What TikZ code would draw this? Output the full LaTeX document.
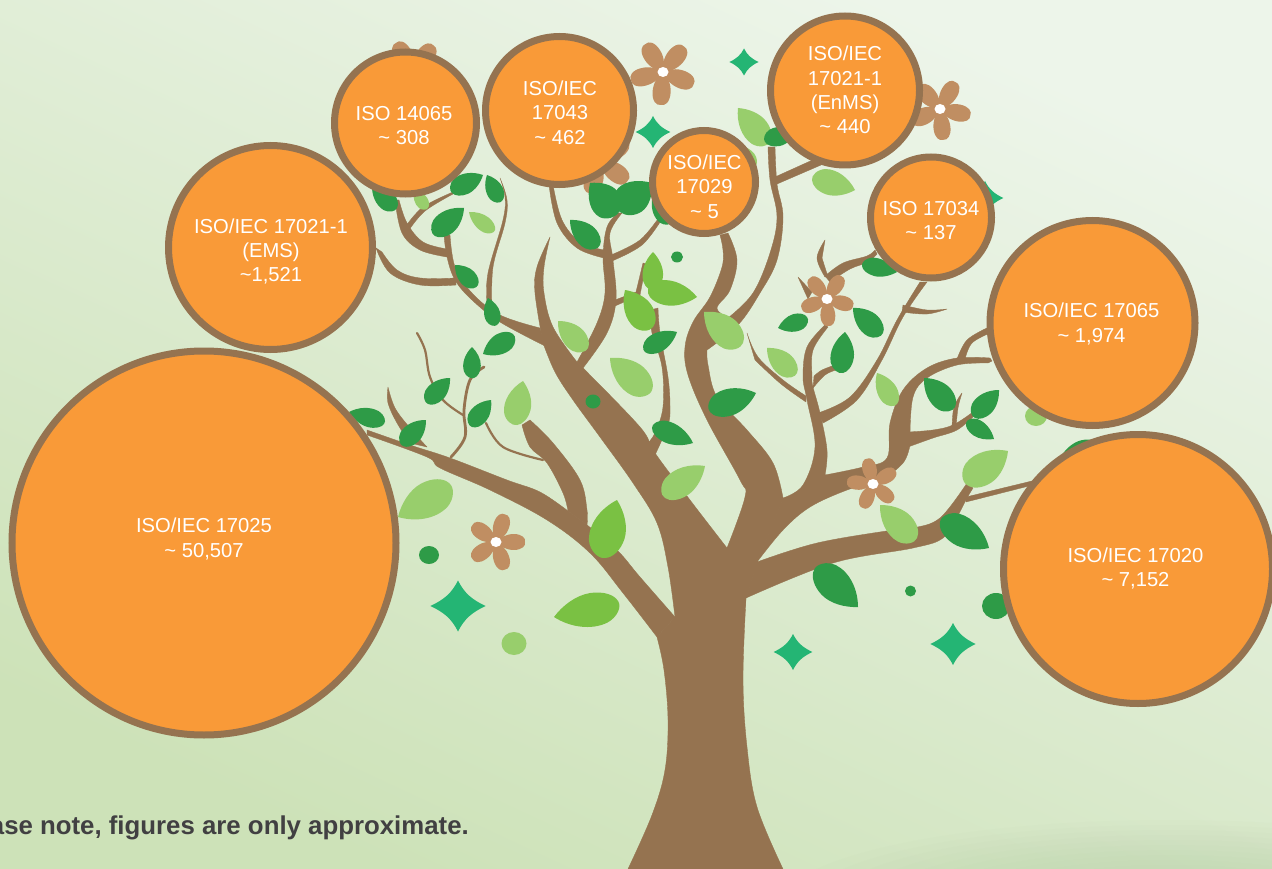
\documentclass[tikz,border=0pt]{standalone}
\usepackage{fontspec}
\setmainfont{Liberation Sans}
\definecolor{treeb}{HTML}{957350}
\definecolor{petal}{HTML}{C08E62}
\definecolor{orng}{HTML}{F99A38}
\definecolor{dkg}{HTML}{2E9B47}
\definecolor{ltg}{HTML}{98CE6C}
\definecolor{mdg}{HTML}{7AC143}
\definecolor{teal}{HTML}{24B574}
\definecolor{txt}{HTML}{414042}
\definecolor{bgt}{HTML}{EDF5EA}
\definecolor{bgb}{HTML}{CDE2B8}
\definecolor{bgd}{HTML}{B8D0A8}
\tikzset{
  bub/.style={circle,draw=treeb,line width=7pt,fill=orng,inner sep=0pt,outer sep=0pt},
  bubt/.style={inner sep=0pt,align=center,text=white,font=\fontsize{20.2}{24.3}\selectfont},
  br/.style={fill=treeb,draw=treeb,line width=.35pt,line join=round},
  twig/.style={draw=treeb,line cap=round,line join=round},
  smth/.style={smooth,tension=.6}
}
\newcommand\Qp[2]{({\tx+\dx*(#1)-\dy*(#2)*\lw},{\ty+\dy*(#1)+\dx*(#2)*\lw})}
\newcommand\leaf[6]{%
  \pgfmathsetmacro\tx{#1}\pgfmathsetmacro\ty{#2}%
  \pgfmathsetmacro\dx{#3-#1}\pgfmathsetmacro\dy{#4-#2}\pgfmathsetmacro\lw{.74*(#5)}%
  \fill[#6] \Qp{0}{0} .. controls \Qp{.2}{.32} and \Qp{.5}{.5} .. \Qp{.76}{.42}
    .. controls \Qp{.93}{.36} and \Qp{1.04}{.14} .. \Qp{1}{0}
    .. controls \Qp{.97}{-.16} and \Qp{.82}{-.3} .. \Qp{.62}{-.33}
    .. controls \Qp{.4}{-.36} and \Qp{.16}{-.2} .. \Qp{0}{0} -- cycle;}
\newcommand\flower[4]{%
  \begin{scope}[shift={(#1,#2)}]
  \foreach \a in {0,72,144,216,288}{
    \fill[petal,rotate=#3+\a,scale=#4/31] (0,0) .. controls (4,-4) and (10,-8.5) .. (19,-8.5)
      .. controls (28,-8.5) and (32,-4) .. (31,0) .. controls (32,4) and (28,8.5) .. (19,8.5) .. controls (10,8.5) and (4,4) .. (0,0) -- cycle;}
  \fill[petal] (0,0) circle (6.5);
  \fill[white] (0,0) ellipse (5.5 and 5);
  \end{scope}}
\newcommand\sparkle[3]{%
  \fill[teal,shift={(#1,#2)},scale=#3] (0,-1) .. controls (.25,-.5) and (.55,-.25) .. (1.08,0)
    .. controls (.55,.25) and (.25,.5) .. (0,1) .. controls (-.25,.5) and (-.55,.25) .. (-1.08,0)
    .. controls (-.55,-.25) and (-.25,-.5) .. (0,-1) -- cycle;}
\begin{document}
\begin{tikzpicture}[x=1pt,y=-1pt]
\useasboundingbox (0,0) rectangle (1272,869);
\clip (0,0) rectangle (1272,869);
\shade[top color=bgt,bottom color=bgb,shading angle=-25] (0,0) rectangle (1272,869);
\foreach \k in {0,...,11}{
  \fill[bgd,opacity=.06] (1170,905) ellipse ({390-\k*24} and {85-\k*5});}

% items behind branches
\sparkle{985}{198}{17}
\flower{413}{70}{50}{32}
\flower{600}{161}{36}{34}
\flower{940}{109}{60}{31}

% TREE
\fill[br] (668,640) -- (678,612) -- (727,548) -- (783,498) -- (757,562) -- (746,598) -- (740,650) -- cycle;
\fill[br] plot[smth] coordinates {(628,869)(652,815)(665,770)(668,720)(664,670)(657,637)} -- (675,617) -- (727,548) -- (757,562) -- (746,598) -- plot[smth] coordinates {(746,598)(743,680)(747,747)(757,807)(783,869)} -- cycle;
% big left branch
\fill[br] plot[smth] coordinates {(657,637)(623,593)(590,553)(547,520)(490,490)(440,468)(427,457)(367,435)} -- plot[smth] coordinates {(367,430)(410,445)(450,458)(507,480)(540,492)(568,511)} -- (587,525) -- plot[smth] coordinates {(587,525)(617,550)(640,577)(675,617)} -- cycle;
\fill[br] plot[smth] coordinates {(568,511)(563,493)(547,463)(530,447)(522,425)} -- plot[smth] coordinates {(530,420)(553,443)(580,480)(587,510)(587,525)} -- cycle;
% central branch
\fill[br] plot[smth] coordinates {(675,617)(668,567)(657,523)(633,483)(600,437)(573,400)(555,372)(543,343)} -- plot[smth] coordinates {(543,343)(535,293)(537,267)(550,237)} -- plot[smth] coordinates {(550,237)(544,267)(544,293)(553,327)(577,362)} -- (583,368) -- plot[smth] coordinates {(583,368)(640,427)(655,453)(690,500)(727,548)} -- cycle;
% upper left branch
\fill[br] plot[smth] coordinates {(545,346)(500,322)(472,300)(455,280)(447,257)(444,235)} -- plot[smth] coordinates {(450,235)(455,267)(472,293)(500,315)(540,328)} -- cycle;
\fill[br] plot[smth] coordinates {(447,257)(420,250)(402,233)(395,200)} -- plot[smth] coordinates {(399,200)(407,223)(423,242)(447,249)} -- cycle;
\fill[br] plot[smth] coordinates {(406,226)(423,207)(453,192)} -- plot[smth] coordinates {(453,194)(425,211)(409,230)} -- cycle;
\fill[br] plot[smth] coordinates {(376,248)(390,273)(420,285)(456,285)} -- plot[smth] coordinates {(456,278)(420,278)(397,270)(382,252)} -- cycle;
\fill[br] plot[smth] coordinates {(487,303)(488,273)(503,220)(505,197)(500,178)} -- plot[smth] coordinates {(500,178)(507,200)(505,223)(493,267)(492,309)} -- cycle;
% centre-fork
\fill[br] plot[smth] coordinates {(577,362)(597,323)(605,293)(603,257)(607,227)(618,213)} -- plot[smth] coordinates {(622,213)(610,233)(613,260)(616,300)(607,333)(583,368)} -- cycle;
\fill[br] plot[smth] coordinates {(604,258)(577,248)(557,223)(549,185)} -- plot[smth] coordinates {(553,185)(562,220)(580,242)(604,250)} -- cycle;
\fill[br] plot[smth] coordinates {(611,255)(640,240)(660,216)} -- plot[smth] coordinates {(662,219)(642,245)(612,261)} -- cycle;
\fill[br] (615,300) -- (636,292) -- (643,263) -- (646,264) -- (640,295) -- (615,306) -- cycle;
\fill[br] plot[smth] coordinates {(647,444)(655,433)(663,407)(662,367)(652,333)(650,310)} -- plot[smth] coordinates {(658,308)(660,333)(668,377)(670,407)(668,425)(655,455)} -- cycle;
% thick middle
\fill[br] plot[smth] coordinates {(727,548)(745,497)(740,480)(707,420)(688,375)(685,347)(693,322)(710,297)(722,267)(723,250)(720,235)} -- plot[smth] coordinates {(728,233)(737,260)(730,290)(717,308)(728,318)} -- plot[smth] coordinates {(728,318)(753,293)(770,253)(777,217)(770,180)(768,147)} -- plot[smth] coordinates {(775,147)(777,184)(783,217)(777,260)(760,293)(738,325)(707,350)} -- plot[smth] coordinates {(707,350)(708,365)(717,397)(747,430)(773,463)(783,498)} -- (757,562) -- cycle;
\fill[br] (775,177) -- (817,158) -- (821,165) -- (777,184) -- cycle;
% right side
\fill[br] plot[smth] coordinates {(783,498)(803,485)(815,447)(807,400)(803,377)(807,347)(825,325)} -- plot[smth] coordinates {(828,327)(813,350)(812,377)(813,387)(820,413)(827,450)(825,475)} -- plot[smth] coordinates {(825,475)(863,467)(887,458)(890,423)(903,390)(927,368)(957,358)(990,358)} -- (992,361) -- plot[smth] coordinates {(988,363)(957,365)(927,378)(913,397)(910,435)} -- plot[smth] coordinates {(910,445)(903,463)(880,480)(847,490)(810,507)(783,530)(757,562)} -- cycle;
\fill[br] plot[smth] coordinates {(908,432)(933,430)(953,425)(973,412)} -- plot[smth] coordinates {(975,415)(957,430)(933,438)(908,447)} -- cycle;
\fill[br] plot[smth] coordinates {(952,428)(954,407)(962,393)} -- plot[smth] coordinates {(962,393)(958,408)(956,428)} -- cycle;
\fill[br] plot[smth] coordinates {(957,359)(967,340)(987,328)} -- plot[smth] coordinates {(990,333)(972,343)(965,359)} -- cycle;
% branch to 17034
\fill[br] plot[smth] coordinates {(818,413)(850,397)(877,360)(897,320)(920,282)} -- plot[smth] coordinates {(927,282)(903,317)(882,360)(857,400)(823,423)} -- cycle;
\fill[br] plot[smth] coordinates {(903,305)(927,310)(947,309)} -- plot[smth] coordinates {(947,309)(927,314)(902,312)} -- cycle;
% twigs near flower
\fill[br] plot[smth] coordinates {(814,376)(822,370)(835,365)} -- plot[smth] coordinates {(836,370)(825,375)(813,388)} -- cycle;
\fill[br] plot[smth] coordinates {(747,333)(758,357)(783,380)(806,396)} -- plot[smth] coordinates {(806,402)(781,384)(755,360)} -- cycle;
\fill[br] plot[smth] coordinates {(825,240)(817,258)(825,277)} -- plot[smth] coordinates {(828,277)(822,258)} -- cycle;
\fill[br] (798,277) -- (812,292) -- (808,299) -- cycle;
\fill[br] plot[smth] coordinates {(825,276)(843,263)(867,256)(875,250)} -- plot[smth] coordinates {(877,254)(868,262)(850,269)(830,282)} -- cycle;
% lower right branch
\fill[br] plot[smth] coordinates {(757,562)(817,543)(893,530)(913,528)(940,518)(967,483)} -- (973,488) -- plot[smth] coordinates {(973,488)(967,498)(957,517)(943,538)(913,548)(833,563)(746,598)} -- cycle;
\fill[br] (966,497) -- (1032,481) -- (1033,485) -- (966,502) -- cycle;
% lower left twigs
\fill[br] plot[smth] coordinates {(388,387)(388,403)(397,423)(410,443)} -- plot[smth] coordinates {(427,447)(410,428)(395,408)(388,387)} -- cycle;
\draw[twig,line width=2.8pt,smth] plot coordinates {(451,457)(465,437)(464,410)(470,380)(484,367)};
\draw[twig,line width=2.2pt,smth] plot coordinates {(417,333)(425,350)(430,377)(443,400)(463,415)};
\draw[twig,line width=2.2pt,smth] plot coordinates {(486,423)(503,447)(543,460)};

% LEAVES
\leaf{483}{175}{452}{193}{1}{dkg}
\leaf{487}{175}{502}{201}{1}{dkg}
\leaf{464}{208}{435}{236}{1}{dkg}
\leaf{469}{212}{495}{230}{.85}{ltg}
\leaf{372}{184}{397}{208}{1}{dkg}
\leaf{414}{190}{428}{208}{1}{ltg}
\leaf{455}{265}{478}{285}{1}{dkg}
\leaf{488}{298}{497}{325}{1}{dkg}
\leaf{483}{354}{513}{334}{1}{dkg}
\leaf{472}{347}{474}{378}{1}{dkg}
\leaf{450}{378}{428}{404}{1}{dkg}
\leaf{491}{400}{472}{427}{1}{dkg}
\leaf{523}{381}{517}{425}{1.05}{ltg}
\leaf{426}{420}{403}{446}{1}{dkg}
\leaf{349}{412}{384}{424}{-.9}{dkg}
\leaf{398}{517}{449}{483}{1}{ltg}
\leaf{617}{500}{605}{558}{1.05}{mdg}
\leaf{554}{617}{618}{601}{.9}{mdg}
\leaf{693}{443}{652}{428}{.85}{dkg}
\leaf{705}{466}{665}{498}{.95}{ltg}
\leaf{756}{393}{710}{412}{.95}{dkg}
\leaf{558}{321}{588}{348}{1}{ltg}
\leaf{610}{358}{652}{390}{1}{ltg}
\leaf{677}{332}{645}{352}{.9}{dkg}
\leaf{625}{290}{653}{327}{1.05}{mdg}
\leaf{653}{252}{655}{290}{.95}{mdg}
\leaf{697}{297}{648}{293}{.9}{mdg}
\leaf{570}{220}{600}{245}{1}{dkg}
\leaf{652}{183}{620}{212}{1.35}{dkg}
\leaf{590}{183}{619}{212}{1.35}{dkg}
\leaf{652}{200}{672}{222}{1}{dkg}
\leaf{738}{108}{770}{142}{1}{ltg}
\leaf{797}{132}{765}{142}{1}{dkg}
\leaf{745}{147}{755}{167}{1}{ltg}
\leaf{855}{190}{812}{180}{1}{ltg}
\leaf{897}{272}{862}{266}{.9}{dkg}
\leaf{778}{328}{807}{317}{1}{dkg}
\leaf{853}{308}{883}{333}{1}{dkg}
\leaf{845}{332}{843}{373}{1}{dkg}
\leaf{767}{348}{797}{373}{1}{ltg}
\leaf{877}{373}{897}{404}{.95}{ltg}
\leaf{704}{312}{743}{343}{1.05}{ltg}
\leaf{924}{378}{955}{407}{1}{dkg}
\leaf{999}{390}{975}{418}{1}{dkg}
\leaf{994}{439}{966}{423}{.9}{dkg}
\leaf{1008}{451}{967}{485}{1.05}{ltg}
\leaf{880}{505}{917}{538}{1}{ltg}
\leaf{989}{548}{940}{522}{.95}{dkg}
\leaf{858}{607}{814}{570}{1}{dkg}
\leaf{1060}{458}{1100}{445}{1}{dkg}

% dots
\fill[dkg] (429,555) ellipse (10 and 9);
\fill[ltg] (514,643.5) ellipse (12.5 and 11.5);
\fill[dkg] (593,401.5) ellipse (7.5 and 7);
\fill[dkg] (677,257) ellipse (6 and 5.5);
\fill[dkg] (910.5,591) ellipse (5.5 and 5.5);
\fill[dkg] (996,606) ellipse (14 and 13);
\fill[ltg] (1036,416) ellipse (11 and 10);

% flowers and stars
\flower{663}{72}{50}{33}
\flower{496}{542}{0}{29}
\flower{873}{484}{31}{26}
\flower{827}{299}{-15}{27}
\sparkle{458}{606}{25.5}
\sparkle{793}{652}{18}
\sparkle{953}{644}{21}
\sparkle{744}{62}{13.5}
\sparkle{653}{132}{16}

% BUBBLES
\node[bub,minimum size=384pt] (a) at (204,543) {};
\node[bub,minimum size=204pt] (b) at (270.5,247.5) {};
\node[bub,minimum size=142pt] (c) at (405.5,123) {};
\node[bub,minimum size=148pt] (d) at (559.5,110.5) {};
\node[bub,minimum size=103pt] (e) at (704,182) {};
\node[bub,minimum size=149pt] (f) at (845,90.5) {};
\node[bub,minimum size=121pt] (g) at (931,217.5) {};
\node[bub,minimum size=205pt] (h) at (1092.5,323) {};
\node[bub,minimum size=269pt] (i) at (1138,569) {};
\node[bubt] (ta) at (204,539) {ISO/IEC 17025\\\textasciitilde{} 50,507};
\node[bubt] (tb) at (271,251.5) {ISO/IEC 17021-1\\(EMS)\\\textasciitilde1,521};
\node[bubt] (tc) at (404,125.5) {ISO 14065\\\textasciitilde{} 308};
\node[bubt] (td) at (560,112.5) {ISO/IEC\\17043\\\textasciitilde{} 462};
\node[bubt] (te) at (704.5,186.5) {ISO/IEC\\17029\\\textasciitilde{} 5};
\node[bubt] (tf) at (845,90) {ISO/IEC\\17021-1\\(EnMS)\\\textasciitilde{} 440};
\node[bubt] (tg) at (931,220.5) {ISO 17034\\\textasciitilde{} 137};
\node[bubt] (th) at (1091.5,324) {ISO/IEC 17065\\\textasciitilde{} 1,974};
\node[bubt] (ti) at (1135.5,568.5) {ISO/IEC 17020\\\textasciitilde{} 7,152};

\node[anchor=base east,inner sep=0pt,text=txt,font=\bfseries\fontsize{25.8}{30}\selectfont] (n) at (469,834) {Please note, figures are only approximate.};
\end{tikzpicture}
\end{document}
